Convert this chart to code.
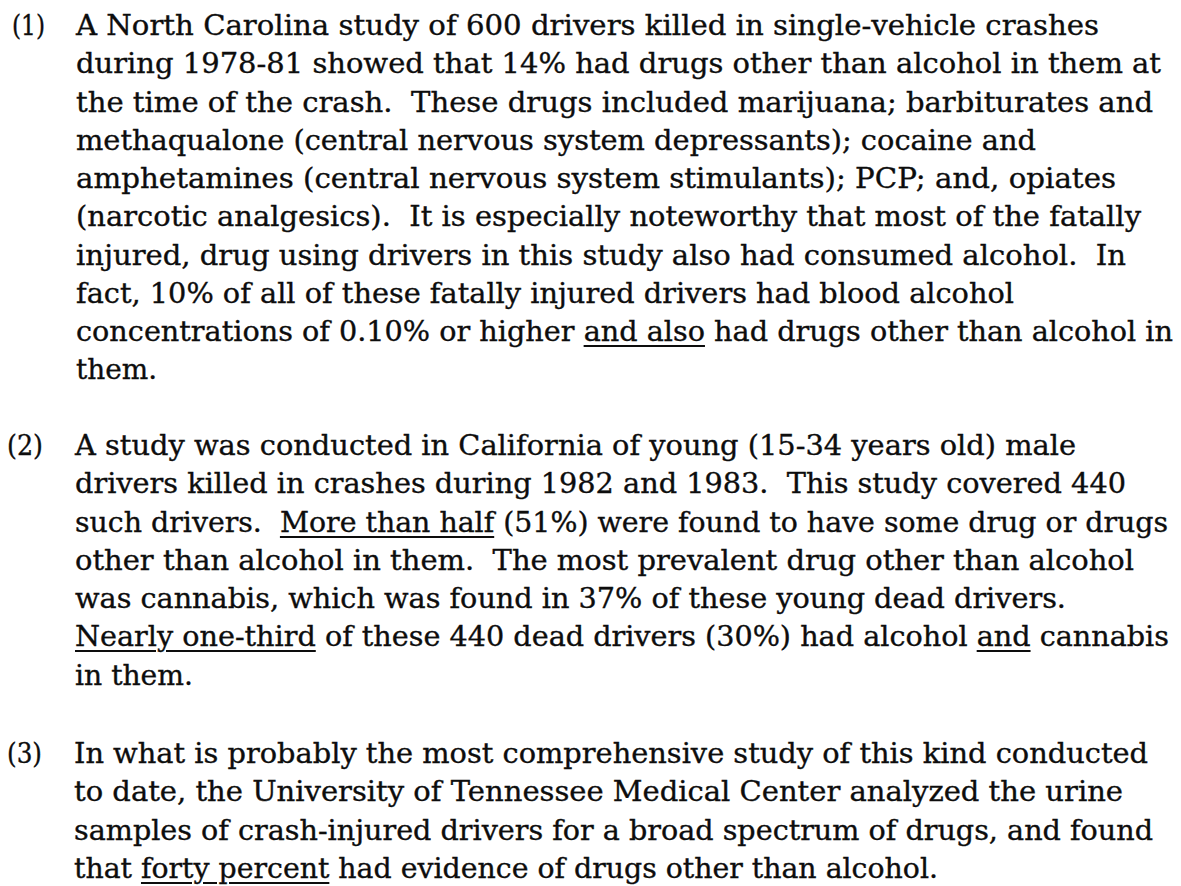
<!DOCTYPE html>
<html>
<head>
<meta charset="utf-8">
<script src="https://cdn.jsdelivr.net/npm/chart.js@4"></script>
<style>
  html, body { margin: 0; padding: 0; background: #fff; }
  body { width: 1181px; height: 886px; position: relative; overflow: hidden;
         font-family: "DejaVu Serif", "Liberation Serif", serif; color: #0d0d0d; }
  .label, .line { position: absolute; white-space: nowrap; font-size: 27.5px;
                  transform-origin: 0 0; -webkit-text-stroke: 0.35px #0d0d0d; }
  u { text-decoration-thickness: 1.6px; text-underline-offset: 4px; }
</style>
</head>
<body>
<div id="doc"></div>
<script>
// Content (the reference is a page of text, not a chart)
const labels = ["(1)", "(2)", "(3)"];
const para1 = [
  "A North Carolina study of 600 drivers killed in single-vehicle crashes",
  "during 1978-81 showed that 14% had drugs other than alcohol in them at",
  "the time of the crash.  These drugs included marijuana; barbiturates and",
  "methaqualone (central nervous system depressants); cocaine and",
  "amphetamines (central nervous system stimulants); PCP; and, opiates",
  "(narcotic analgesics).  It is especially noteworthy that most of the fatally",
  "injured, drug using drivers in this study also had consumed alcohol.  In",
  "fact, 10% of all of these fatally injured drivers had blood alcohol",
  "concentrations of 0.10% or higher <u>and also</u> had drugs other than alcohol in",
  "them."
];
const para2 = [
  "A study was conducted in California of young (15-34 years old) male",
  "drivers killed in crashes during 1982 and 1983.  This study covered 440",
  "such drivers.  <u>More than half</u> (51%) were found to have some drug or drugs",
  "other than alcohol in them.  The most prevalent drug other than alcohol",
  "was cannabis, which was found in 37% of these young dead drivers.",
  "<u>Nearly one-third</u> of these 440 dead drivers (30%) had alcohol <u>and</u> cannabis",
  "in them."
];
const para3 = [
  "In what is probably the most comprehensive study of this kind conducted",
  "to date, the University of Tennessee Medical Center analyzed the urine",
  "samples of crash-injured drivers for a broad spectrum of drugs, and found",
  "that <u>forty percent</u> had evidence of drugs other than alcohol."
];

// Layout (page geometry of the scanned text)
const paragraphs = [para1, para2, para3];
const firstBaselines = [35, 455, 763];
const lineStep = 38.25;
const labelX = [12, 7, 7];
const labelEnd = [45, 43, 42];
const textX = [76, 75, 74];
const lineEnds = [
  [1099, 1161, 1153, 1036, 1116, 1141, 1126, 1014, 1173, 157],
  [1076, 1126, 1168, 1134, 1066, 1169, 193],
  [1148, 1123, 1153, 938]
];

const doc = document.getElementById('doc');

// baseline offset of the font
const probe = document.createElement('span');
probe.style.cssText = 'position:absolute;font-size:27.5px;line-height:normal;white-space:nowrap;';
probe.innerHTML = 'Hx<span style="display:inline-block;width:1px;height:0;vertical-align:baseline"></span>';
doc.appendChild(probe);
const baseOff = probe.lastChild.getBoundingClientRect().top - probe.getBoundingClientRect().top;
doc.removeChild(probe);

function place(el, x, baseline, endX) {
  doc.appendChild(el);
  const w = el.getBoundingClientRect().width;
  el.style.left = x + 'px';
  el.style.top = (baseline - baseOff) + 'px';
  el.style.transform = 'scaleX(' + ((endX - x) / w) + ')';
}

paragraphs.forEach((p, pi) => {
  const lab = document.createElement('div');
  lab.className = 'label';
  lab.textContent = labels[pi];
  place(lab, labelX[pi], firstBaselines[pi], labelEnd[pi]);
  p.forEach((t, li) => {
    const d = document.createElement('div');
    d.className = 'line';
    d.innerHTML = t.replace(/  /g, ' \u00a0');
    place(d, textX[pi], firstBaselines[pi] + li * lineStep, lineEnds[pi][li]);
  });
});
</script>
</body>
</html>
